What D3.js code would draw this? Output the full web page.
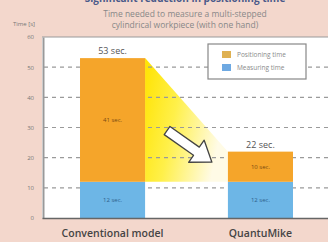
<!DOCTYPE html>
<meta charset="utf-8">
<script src="https://d3js.org/d3.v7.min.js"></script>
<style>
  body { margin: 0; background: #f3d7cc; }
  text { font-family: "Open Sans", sans-serif; }
</style>
<div id="chart"></div>
<script>
  // data
  const models = ["Conventional model", "QuantuMike"];
  const measuring = [12, 12];
  const positioning = [41, 10];
  const totals = [53, 22];
  const yTicks = [0, 10, 20, 30, 40, 50, 60];
  const seriesNames = ["Positioning time", "Measuring time"];

  const W = 328, H = 242;
  const orange = "#f5a52a", blue = "#6db6e6";

  const svg = d3.select("#chart").append("svg")
    .attr("width", W).attr("height", H);

  const x = d3.scaleBand().domain(models).range([42, 331])
    .paddingInner(0.56).paddingOuter(0.257);
  const y = d3.scaleLinear().domain([0, 60]).range([218, 37]);

  // heading, cut off by the top edge as in the source picture
  svg.append("text").attr("x", 185).attr("y", 1.5).attr("text-anchor", "middle")
    .style("font-size", "10px").style("font-weight", "bold").attr("fill", "#4a5a8a")
    .text("Significant reduction in positioning time");

  svg.append("text").attr("x", 185).attr("y", 16.5).attr("text-anchor", "middle")
    .style("font-size", "8.5px").attr("fill", "#888")
    .text("Time needed to measure a multi-stepped");
  svg.append("text").attr("x", 185).attr("y", 28).attr("text-anchor", "middle")
    .style("font-size", "8.5px").attr("fill", "#888")
    .text("cylindrical workpiece (with one hand)");

  svg.append("text").attr("x", 24).attr("y", 26).attr("text-anchor", "middle")
    .style("font-size", "6px").attr("fill", "#777").text("Time [s]");

  // plot area
  svg.append("rect").attr("x", 42).attr("y", y(60))
    .attr("width", W - 42).attr("height", y(0) - y(60)).attr("fill", "#fff");

  // yellow band between the bar tops
  const x1 = x(models[0]) + x.bandwidth(), x2 = x(models[1]);
  const grad = svg.append("defs").append("linearGradient")
    .attr("id", "yel").attr("x1", 0).attr("y1", 0).attr("x2", 1).attr("y2", 0.3);
  grad.append("stop").attr("offset", 0).attr("stop-color", "#ffe300");
  grad.append("stop").attr("offset", 0.45).attr("stop-color", "#fff04a");
  grad.append("stop").attr("offset", 1).attr("stop-color", "#fffbe6");
  svg.append("path")
    .attr("d", d3.line()([[x1, y(totals[0])], [x2, y(totals[1])], [x2, y(measuring[1])], [x1, y(measuring[0])]]) + "Z")
    .attr("fill", "url(#yel)");

  // dashed grid
  svg.append("g").selectAll("line").data(yTicks.filter(d => d > 0 && d < 60)).join("line")
    .attr("x1", 44).attr("x2", W).attr("y1", d => y(d)).attr("y2", d => y(d))
    .attr("stroke", "#9a9a9a").attr("stroke-width", 1.2).attr("stroke-dasharray", "4,4");
  svg.append("line").attr("x1", 42).attr("x2", W).attr("y1", y(60)).attr("y2", y(60))
    .attr("stroke", "#999").attr("stroke-width", 1.2);

  // y axis
  const yAxis = svg.append("g").attr("transform", "translate(43,0)")
    .call(d3.axisLeft(y).tickValues(yTicks).tickSize(0).tickPadding(9));
  yAxis.select(".domain").attr("stroke", "#999").attr("stroke-width", 2);
  yAxis.selectAll("text").style("font-size", "6px").attr("fill", "#777")
    .style("font-family", "Open Sans, sans-serif");

  // bars
  const g = svg.append("g");
  g.selectAll(".m").data(models).join("rect")
    .attr("x", d => x(d)).attr("width", x.bandwidth())
    .attr("y", (d, i) => y(measuring[i])).attr("height", (d, i) => y(0) - y(measuring[i]))
    .attr("fill", blue);
  g.selectAll(".p").data(models).join("rect")
    .attr("x", d => x(d)).attr("width", x.bandwidth())
    .attr("y", (d, i) => y(measuring[i] + positioning[i]))
    .attr("height", (d, i) => y(measuring[i]) - y(measuring[i] + positioning[i]))
    .attr("fill", orange);

  // value labels
  g.selectAll(".tot").data(models).join("text")
    .attr("x", d => x(d) + x.bandwidth() / 2).attr("y", (d, i) => y(totals[i]) - 4)
    .attr("text-anchor", "middle").style("font-size", "9px").attr("fill", "#555")
    .text((d, i) => totals[i] + " sec.");
  g.selectAll(".pl").data(models).join("text")
    .attr("x", d => x(d) + x.bandwidth() / 2)
    .attr("y", (d, i) => y(measuring[i] + positioning[i] / 2) + 2)
    .attr("text-anchor", "middle").style("font-size", "6px").attr("fill", "#7a4a12")
    .text((d, i) => positioning[i] + " sec.");
  g.selectAll(".ml").data(models).join("text")
    .attr("x", d => x(d) + x.bandwidth() / 2)
    .attr("y", (d, i) => y(measuring[i] / 2) + 2)
    .attr("text-anchor", "middle").style("font-size", "6px").attr("fill", "#2d5f8c")
    .text((d, i) => measuring[i] + " sec.");

  // bottom axis
  const xAxis = svg.append("g").attr("transform", `translate(0,${y(0)})`)
    .call(d3.axisBottom(x).tickSize(0).tickPadding(12));
  xAxis.select(".domain").attr("stroke", "#666").attr("stroke-width", 1.5);
  xAxis.selectAll("text").style("font-size", "10.5px").attr("fill", "#444")
    .style("font-family", "Open Sans, sans-serif").style("font-weight", "600");

  // block arrow between bars
  const ax0 = x1 + 22, ay0 = y(29), ax1 = x2 - 16, ay1 = y(18.5);
  const len = Math.hypot(ax1 - ax0, ay1 - ay0);
  const ang = Math.atan2(ay1 - ay0, ax1 - ax0) * 180 / Math.PI;
  const hl = 19, sw = 5, hw = 13.5;
  svg.append("path")
    .attr("transform", `translate(${ax0},${ay0}) rotate(${ang})`)
    .attr("d", d3.line()([[0, -sw], [len - hl, -sw], [len - hl, -hw], [len, 0],
      [len - hl, hw], [len - hl, sw], [0, sw]]) + "Z")
    .attr("fill", "#fff").attr("stroke", "#444").attr("stroke-width", 1.3)
    .attr("stroke-linejoin", "round");

  // legend
  const lg = svg.append("g").attr("transform", "translate(208,44)");
  lg.append("rect").attr("width", 98).attr("height", 35)
    .attr("fill", "#fff").attr("stroke", "#888").attr("stroke-width", 1.2);
  lg.selectAll("rect.sw").data(seriesNames).join("rect").attr("class", "sw")
    .attr("x", 14).attr("y", (d, i) => 7 + i * 13).attr("width", 9).attr("height", 7)
    .attr("fill", (d, i) => i === 0 ? "#dfb152" : "#6ea9e2");
  lg.selectAll("text").data(seriesNames).join("text")
    .attr("x", 29).attr("y", (d, i) => 13 + i * 13)
    .style("font-size", "6.5px").attr("fill", "#8a8a8a").text(d => d);
</script>
